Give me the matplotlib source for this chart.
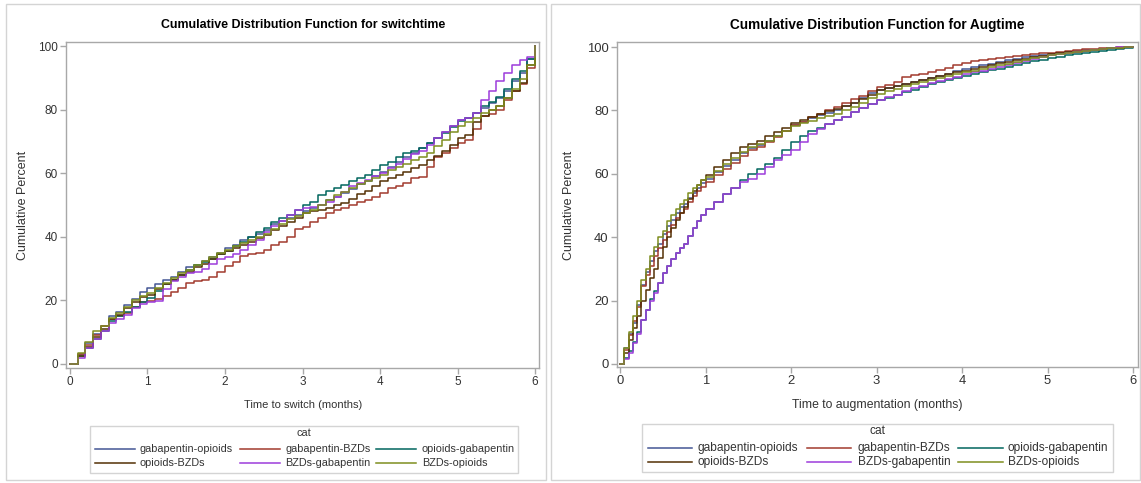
import numpy as np
import matplotlib.pyplot as plt
from matplotlib.patches import Rectangle
from matplotlib.lines import Line2D

plt.rcParams['font.family'] = ['Liberation Sans', 'DejaVu Sans']

cats = ['gabapentin-opioids', 'gabapentin-BZDs', 'opioids-gabapentin',
        'opioids-BZDs', 'BZDs-gabapentin', 'BZDs-opioids']
colors = ['#445694', '#A23A2E', '#01665E', '#543005', '#9D3CDB', '#7F8E1F']

# switch time, months (every 0.1 month)
t_switch = [round(0.1 * i, 1) for i in range(61)]
switch = {
    'gabapentin-opioids': [0, 3, 6.5, 9.5, 12, 15, 16.5, 18.5, 20.5, 22.5, 24, 25, 26.5, 27.5, 29, 30.5,
                           31, 32.5, 33.5, 35, 36.4, 37.5, 39, 40, 41, 42.2, 44, 45, 46, 47, 48, 49, 50,
                           51.5, 52.5, 53.7, 55, 56.5, 57.5, 59, 60.5, 62, 63.5, 65, 66.5, 68, 69.5, 71,
                           73, 75, 76.8, 77.5, 79, 80.5, 82, 83.5, 86, 89, 91.5, 96, 100],
    'gabapentin-BZDs': [0, 3, 6, 9, 12, 14, 15, 16, 18, 19.5, 19.7, 20.5, 21.5, 22.5, 24, 25.4, 26, 26.5,
                        27.5, 29, 30.7, 32, 34, 34.5, 35, 36, 37.5, 38.5, 40, 42.5, 43.2, 44.5, 46, 47.5,
                        48.5, 49, 50, 51, 51.5, 52.5, 53.7, 55.5, 56, 57, 58.4, 58.8, 62, 65, 66.5, 68,
                        69.4, 70.5, 74, 78, 78.5, 80, 83, 86, 88, 93, 100],
    'opioids-gabapentin': [0, 2.5, 5, 8, 10.5, 13.4, 15, 16.5, 18, 19.5, 20.7, 23, 25, 26.5, 28, 29.6, 31,
                           32, 33, 34.5, 35.6, 37, 38.5, 40, 41.5, 42.7, 44.5, 46, 47, 48.5, 50, 51, 53,
                           54.5, 55.5, 56.3, 57.5, 58.5, 59.5, 61, 62.6, 63.5, 65, 66.5, 67, 68, 69.5, 71,
                           72.5, 74.5, 76.5, 77.5, 79, 81, 82.5, 84, 86.5, 89.5, 92, 96, 100],
    'opioids-BZDs': [0, 2.5, 5.5, 8.5, 11, 14, 15.5, 17.5, 19.5, 21, 21.8, 23.5, 25, 26.5, 28, 29, 30.5,
                     31.5, 33, 34.5, 35.4, 36.5, 37.5, 38.5, 39.5, 40.6, 42, 43.5, 44.5, 46, 47.4, 48,
                     48.5, 49.2, 50, 50.6, 52, 53.5, 54.5, 56, 57.4, 58.5, 59.5, 60.5, 61.5, 62.6, 64,
                     65.5, 67, 69, 71, 72, 76, 78, 80, 81, 83.5, 86, 88.5, 94, 100],
    'BZDs-gabapentin': [0, 2, 5, 8, 10.5, 12.9, 14, 15.5, 17.5, 19, 19.5, 19.7, 23.5, 26, 27.5, 28.6, 29,
                        30, 31.5, 33, 33.8, 34.5, 36, 37.5, 39, 41.5, 43.5, 45, 47, 48.5, 49, 49.5, 50,
                        51, 52.5, 54.2, 56, 57, 58, 59, 60, 61.5, 63, 64.5, 66, 67, 69, 71, 73, 75,
                        76.8, 77.5, 79, 83, 86, 89, 91.5, 94, 95.5, 96.5, 100],
    'BZDs-opioids': [0, 3.5, 7, 10.5, 12, 14.5, 16, 18, 20, 21.5, 22.3, 24, 25.5, 27, 28.5, 29.5, 31,
                     32.5, 33.5, 35, 36, 37, 38, 39, 40, 41, 42.5, 44, 45.5, 46.5, 47.4, 48.5, 50, 51.5,
                     53, 54.2, 55.5, 56.5, 57.5, 58.5, 59.5, 61, 62, 63, 64, 65, 66.5, 68.5, 70.5, 73,
                     75, 76, 77.5, 79, 80, 81, 83.5, 86.5, 89.5, 94, 100],
}

# augmentation time, months (every 0.05 up to 1, then every 0.1)
t_aug = [round(0.05 * i, 2) for i in range(21)] + [round(1 + 0.1 * i, 1) for i in range(1, 51)]
aug = {
    'gabapentin-opioids': [0, 5, 9.5, 13, 18.5, 25, 29, 32.5, 35.5, 38, 41, 43.5, 45.5, 47.5, 49.5, 50.6,
                           52.5, 54, 55.5, 57, 58.5,
                           60.5, 62.5, 64.5, 66.5, 68, 69.2, 70.5, 71.8, 73.5, 75.5, 76.5, 77.5, 78.5,
                           79.2, 80, 81.5, 82.5, 84, 85.5, 86.6, 87, 87.6, 88.3, 89, 89.5, 90.2, 90.8,
                           91.5, 92.3, 93, 93.6, 94.2, 94.8, 95.3, 95.8, 96.3, 96.8, 97.2, 97.6, 97.9,
                           98.2, 98.5, 98.8, 99, 99.2, 99.4, 99.6, 99.8, 100, 100],
    'gabapentin-BZDs': [0, 4.5, 9, 13.5, 18, 24.5, 28, 31, 34, 36.5, 39, 41.5, 44, 46, 47.5, 49, 51, 53,
                        54.5, 56, 57.5,
                        59.5, 61.5, 63.5, 65.5, 67.4, 68.5, 70.2, 71.5, 73.5, 75.3, 76.5, 78, 79, 80, 81,
                        82.5, 83.5, 84.5, 86, 87.4, 88, 89, 90.5, 91.3, 91.6, 92.2, 92.8, 93.5, 94.3,
                        95, 95.5, 95.8, 96.1, 96.5, 96.8, 97.2, 97.5, 97.8, 98, 98.2, 98.5, 98.8, 99.1,
                        99.3, 99.5, 99.7, 99.8, 99.9, 100, 100],
    'opioids-gabapentin': [0, 2, 4, 7, 10, 14, 17, 20.5, 23, 25.5, 28.6, 31, 33, 35, 36.5, 38, 40.5, 43,
                           45, 47, 49,
                           51, 53.5, 55.5, 58, 60, 61.5, 63, 65, 67.5, 70, 72, 73.5, 74.5, 75.7, 76.9,
                           78, 79.5, 80.8, 82, 83.2, 84, 84.8, 85.8, 86.6, 87.4, 88.2, 88.9, 89.6, 90.3,
                           91, 91.6, 92.2, 92.7, 93.2, 93.7, 94.3, 94.9, 95.5, 96, 96.6, 97, 97.5, 97.9,
                           98.2, 98.5, 98.9, 99.2, 99.5, 99.8, 100],
    'opioids-BZDs': [0, 3.5, 7.5, 11.5, 15, 20, 23.5, 27, 30, 33.5, 37, 40, 43, 45.5, 47.5, 49.6, 52,
                     54.5, 56.5, 58, 59.6,
                     62, 64.5, 66.5, 68.5, 69.5, 70.5, 72, 73.2, 74.5, 76, 77, 78, 79, 79.8, 80.5, 81.5,
                     82.5, 83.5, 85, 86.3, 87, 87.6, 88.3, 89, 89.5, 90.2, 90.8, 91.5, 92, 92.6, 93.2,
                     93.8, 94.4, 94.9, 95.3, 95.8, 96.3, 96.8, 97.3, 97.7, 98, 98.3, 98.6, 98.8, 99,
                     99.3, 99.6, 99.8, 100, 100],
    'BZDs-gabapentin': [0, 1.5, 3.5, 6.5, 9.5, 14, 17, 20, 22.5, 25.5, 28.6, 31, 33, 35, 36.5, 38, 40.5,
                        43, 45, 47, 49,
                        51, 53.5, 55.5, 57.5, 58.5, 60, 62, 64.5, 66, 67.4, 70, 72.5, 74, 75.7, 76.9,
                        78, 79.5, 80.8, 82, 83.2, 84.2, 85, 86, 87, 87.8, 88.6, 89.3, 90, 90.7, 91.4,
                        92, 92.6, 93.2, 93.8, 94.4, 95, 95.6, 96.2, 96.8, 97.4, 97.8, 98.2, 98.6, 98.9,
                        99.1, 99.4, 99.7, 99.9, 100, 100],
    'BZDs-opioids': [0, 5, 10, 15, 20, 26.5, 30, 34, 37, 40, 42, 45, 47, 49, 50.5, 51.7, 54, 55.5, 56.5,
                     58, 59,
                     61, 63, 65, 67, 68.5, 69.5, 70.5, 72, 73.5, 75, 76, 76.8, 77.5, 78.3, 79, 80, 81,
                     82.5, 84, 85.3, 86, 86.8, 87.6, 88.3, 89, 89.6, 90.2, 90.8, 91.4, 92, 92.6, 93.2,
                     93.8, 94.3, 94.7, 95.2, 95.8, 96.4, 97, 97.4, 97.8, 98.2, 98.5, 98.8, 99, 99.3,
                     99.6, 99.8, 100, 100],
}

W, H = 1141, 483
fig = plt.figure(figsize=(W / 100, H / 100), dpi=100)


def fx(px):
    return px / W


def fy(py):
    return 1 - py / H


# panel borders
for x0, w in [(6, 540), (551, 589)]:
    fig.patches.append(Rectangle((fx(x0), fy(480)), w / W, 476 / H, transform=fig.transFigure,
                                 fill=False, edgecolor='#d4d4d4', linewidth=1))

panels = [
    dict(rect=[fx(66), fy(368), 473 / W, 326 / H], t=t_switch, data=switch,
         xlim=(-0.05, 6.05), ylim=(-1.26, 101.26), cx=303, fs=1.0,
         title='Cumulative Distribution Function for switchtime', xlabel='Time to switch (months)',
         ylab_x=23,
         box=(89.5, 426, 517.5, 473), cat_y=433, rows=(449, 463),
         cols=((95, 135, 140), (240, 280, 285), (376, 416, 422))),
    dict(rect=[fx(617), fy(367), 521 / W, 325 / H], t=t_aug, data=aug,
         xlim=(-0.035, 6.058), ylim=(-0.95, 101.6), cx=877, fs=1.1,
         title='Cumulative Distribution Function for Augtime', xlabel='Time to augmentation (months)',
         ylab_x=569,
         box=(642, 424, 1113, 472), cat_y=431, rows=(448, 462),
         cols=((648, 692, 698), (807, 851, 858), (958, 1003, 1008))),
]

txtcol = '#333333'

for p in panels:
    s = p['fs']
    ax = fig.add_axes(p['rect'])
    for c, col in zip(cats, colors):
        ax.plot(p['t'], p['data'][c], drawstyle='steps-post', color=col, linewidth=1.1)
    ax.set_xlim(*p['xlim'])
    ax.set_ylim(*p['ylim'])
    ax.set_xticks(range(7))
    ax.set_yticks([0, 20, 40, 60, 80, 100])
    for sp in ax.spines.values():
        sp.set_color('#a8a8a8')
        sp.set_linewidth(1)
    ax.tick_params(direction='out', length=4, width=1, color='#a8a8a8', labelcolor=txtcol,
                   labelsize=8.5 * s, pad=2)
    fig.text(fx(p['cx']), fy(25), p['title'], ha='center', va='center',
             fontsize=8.9 * s, fontweight='bold', color='black')
    fig.text(fx(p['cx']), fy(405), p['xlabel'], ha='center', va='center',
             fontsize=8.0 * s, color=txtcol)
    fig.text(fx(p['ylab_x']), fy(205), 'Cumulative Percent', ha='center', va='center',
             rotation=90, fontsize=9, color=txtcol)

    # legend: frame, title, 2 rows x 3 columns
    bx0, by0, bx1, by1 = p['box']
    fig.patches.append(Rectangle((fx(bx0), fy(by1)), (bx1 - bx0) / W, (by1 - by0) / H,
                                 transform=fig.transFigure, fill=False,
                                 edgecolor='#d4d4d4', linewidth=1))
    fig.text(fx((bx0 + bx1) / 2), fy(p['cat_y']), 'cat', ha='center', va='center',
             fontsize=7.8 * s, color=txtcol)
    for i, c in enumerate(cats):
        r, k = divmod(i, 3)
        hx0, hx1, tx = p['cols'][k]
        yy = fy(p['rows'][r])
        fig.add_artist(Line2D([fx(hx0), fx(hx1)], [yy, yy], transform=fig.transFigure,
                              color=colors[i], linewidth=1.1))
        fig.text(fx(tx), yy, c, ha='left', va='center', fontsize=7.8 * s, color=txtcol)

fig.savefig('out.png', dpi=100)
